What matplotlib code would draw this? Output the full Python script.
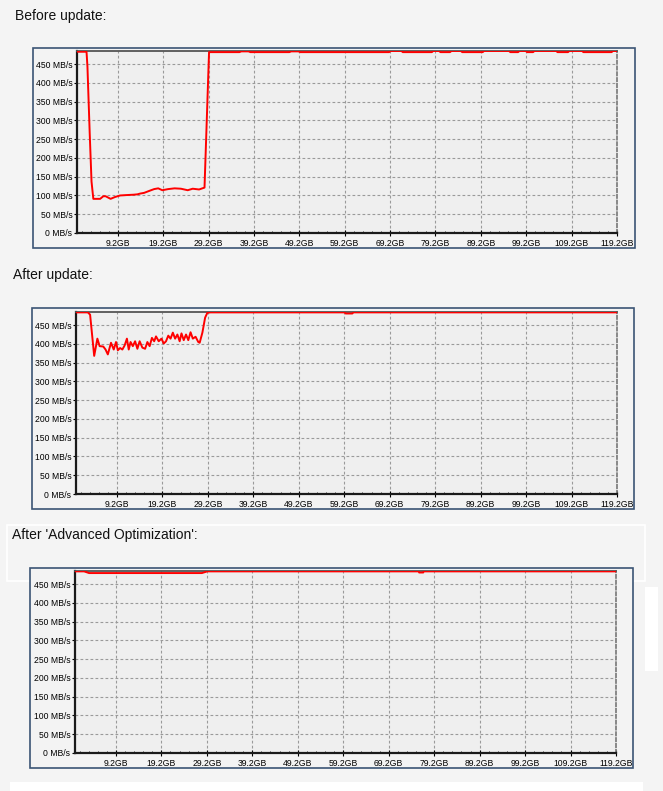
import matplotlib
matplotlib.use('Agg')
import matplotlib.pyplot as plt
from matplotlib.patches import Rectangle
from matplotlib.ticker import FixedLocator, NullFormatter

W, H = 663, 791

# tick labels shared by all three panels
x_ticks = [9.2, 19.2, 29.2, 39.2, 49.2, 59.2, 69.2, 79.2, 89.2, 99.2, 109.2, 119.2]
x_tick_labels = ['9.2GB', '19.2GB', '29.2GB', '39.2GB', '49.2GB', '59.2GB',
                 '69.2GB', '79.2GB', '89.2GB', '99.2GB', '109.2GB', '119.2GB']
y_ticks = [0, 50, 100, 150, 200, 250, 300, 350, 400, 450]
y_tick_labels = ['0 MB/s', '50 MB/s', '100 MB/s', '150 MB/s', '200 MB/s',
                 '250 MB/s', '300 MB/s', '350 MB/s', '400 MB/s', '450 MB/s']

# "Before update:" write speed (GB written -> MB/s)
before_gb = [0.2, 2.3, 2.5, 3.0, 3.4, 3.8, 5.3, 6.0, 6.5, 7.6, 8.6, 9.7, 11.0, 12.6,
             13.5, 14.1, 15.0, 16.3, 17.2, 18.1, 19.0, 20.3, 21.7, 23.1, 24.6, 25.7,
             27.1, 28.3, 29.3, 36.0, 36.4, 38.0, 38.4, 47.0, 47.4, 49.0, 49.4, 69.0,
             69.3, 71.7, 72.0, 78.4, 78.7, 80.0, 80.3, 82.4, 82.7, 84.8, 85.1, 89.6,
             89.9, 95.4, 95.7, 97.4, 97.7, 99.1, 99.4, 100.7, 101.0, 105.8, 106.1,
             108.4, 108.7, 111.5, 111.8, 118.0, 118.3, 119.2]
before_speed = [483, 483, 444, 266, 137, 91, 91, 98, 98, 91, 96, 100, 101, 102,
                103, 105, 107, 113, 117, 119, 114, 117, 119, 118, 114, 118,
                116, 121, 482, 482, 484, 484, 482, 482, 484, 484, 482, 482,
                485, 485, 482, 482, 485, 485, 482, 482, 485, 485, 482, 482,
                485, 485, 482, 482, 485, 485, 482, 482, 485, 485, 482,
                482, 485, 485, 482, 482, 485, 485]

# "After update:"
after_gb = [0.2, 2.8, 3.3, 4.2, 4.9, 5.4, 6.2, 6.7, 7.2, 7.9, 8.5, 9.0, 9.4, 9.9,
            10.4, 10.9, 11.4, 11.8, 12.2, 12.7, 13.2, 13.7, 14.2, 14.8, 15.4, 15.9,
            16.4, 16.9, 17.4, 17.8, 18.4, 19.0, 19.5, 20.0, 20.5, 21.0, 21.5, 22.0,
            22.5, 23.0, 23.4, 23.9, 24.4, 24.9, 25.4, 25.9, 26.5, 27.1, 27.4, 28.0,
            28.6, 29.1, 29.8, 59.3, 59.5, 61.0, 61.2, 119.2]
after_speed = [484, 484, 478, 368, 414, 394, 393, 385, 372, 403, 385, 405, 383, 389,
               385, 396, 414, 385, 405, 394, 407, 387, 407, 390, 387, 405,
               394, 416, 407, 420, 407, 414, 401, 407, 422, 414, 430, 414,
               425, 407, 428, 410, 425, 410, 431, 414, 419, 405, 403, 430,
               470, 483, 484, 484, 481, 481, 484, 484]

# "After 'Advanced Optimization':"
optimized_gb = [0.2, 2.2, 3.3, 28.1, 29.3, 75.8, 75.9, 76.8, 76.9, 119.2]
optimized_speed = [484, 484, 479.5, 479.5, 484, 484, 481, 481, 484, 484]

minor_x = [1.2 + 2 * i for i in range(59)]

fig = plt.figure(figsize=(W / 100, H / 100), dpi=100)
fig.patch.set_facecolor('#f4f4f4')


def fig_rect(x0, y0, x1, y1, **kw):
    fig.add_artist(Rectangle((x0 / W, 1 - y1 / H), (x1 - x0) / W, (y1 - y0) / H,
                             transform=fig.transFigure, zorder=-1, **kw))


# a few page artifacts around the last screenshot
fig_rect(7, 525, 645, 581, facecolor='none', edgecolor='white', lw=1.2)
fig_rect(10, 782, 643, 791, facecolor='white', edgecolor='none')
fig_rect(645, 587, 658, 671, facecolor='white', edgecolor='none')


def draw_panel(title, title_xy, frame, box, gb, speed):
    fig.text(title_xy[0] / W, 1 - title_xy[1] / H, title, fontsize=10,
             family='Liberation Sans', va='center', ha='left', color='#111111')
    fig_rect(*frame, facecolor='#f3f3f3', edgecolor='#3b5474', lw=1.2)
    x0, y0, x1, y1 = box
    ax = fig.add_axes([x0 / W, 1 - y1 / H, (x1 - x0) / W, (y1 - y0) / H])
    ax.set_facecolor('#efefef')
    ax.plot(gb, speed, color='#ff0000', lw=1.4, zorder=3, clip_on=True)
    ax.set_xlim(0.2, 119.2)
    ax.set_ylim(0, 485)
    ax.set_xticks(x_ticks)
    ax.set_xticklabels(x_tick_labels)
    ax.set_yticks(y_ticks)
    ax.set_yticklabels(y_tick_labels)
    ax.xaxis.set_minor_locator(FixedLocator(minor_x))
    ax.xaxis.set_minor_formatter(NullFormatter())
    ax.tick_params(axis='x', which='major', direction='inout', length=4, width=0.8,
                   pad=2.5, labelsize=6.2, colors='#000000')
    ax.tick_params(axis='x', which='minor', direction='in', length=1.8, width=0.7,
                   color='#333333')
    ax.tick_params(axis='y', which='major', direction='out', length=2.5, width=0.8,
                   pad=0.8, labelsize=6.2, colors='#000000')
    for lab in ax.get_xticklabels() + ax.get_yticklabels():
        lab.set_family('Liberation Sans')
    ax.grid(True, which='major', color='#9a9a9a', lw=0.8, ls=(0, (2.5, 2)))
    ax.set_axisbelow(True)
    ax.spines['left'].set_color('#1a1a1a')
    ax.spines['left'].set_linewidth(1.6)
    ax.spines['bottom'].set_color('#1a1a1a')
    ax.spines['bottom'].set_linewidth(1.6)
    ax.spines['top'].set_color('#555555')
    ax.spines['top'].set_linewidth(1.3)
    ax.spines['top'].set_zorder(2.5)
    ax.spines['right'].set_color('#777777')
    ax.spines['right'].set_linewidth(1.2)
    ax.spines['right'].set_linestyle((0, (2, 1.5)))
    return ax


draw_panel('Before update:', (15, 16), (33, 48, 635, 248), (77, 51, 617, 233),
           before_gb, before_speed)
draw_panel('After update:', (13, 275), (32, 308, 634, 509), (76, 312, 617, 494),
           after_gb, after_speed)
draw_panel("After 'Advanced Optimization':", (12, 535), (30, 568, 633, 768),
           (75, 571, 616, 753), optimized_gb, optimized_speed)

fig.savefig('out.png', dpi=100, facecolor=fig.get_facecolor())
